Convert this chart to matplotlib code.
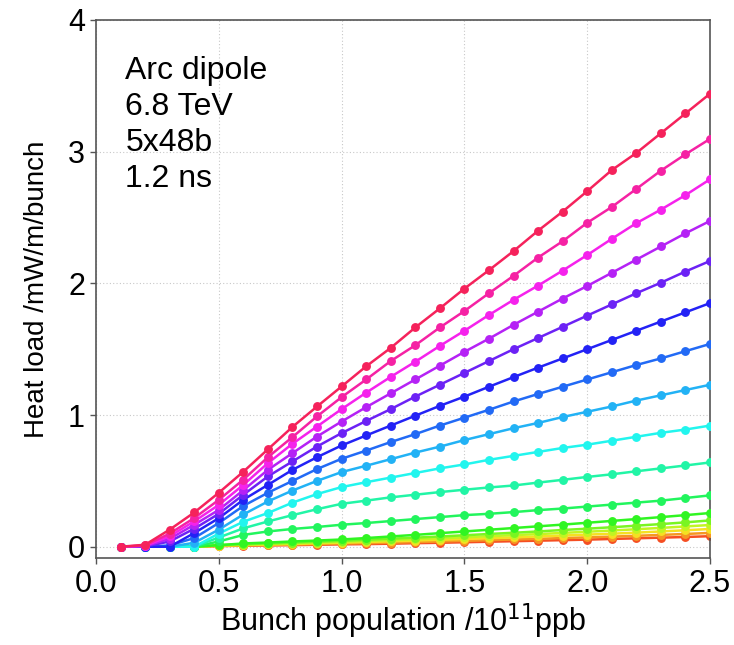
import colorsys

import matplotlib

matplotlib.use("Agg")

import matplotlib.pyplot as plt

plt.rcParams["font.family"] = ["Liberation Sans", "DejaVu Sans"]

# bunch population in 1e11 protons per bunch
intensity = [0.1, 0.2, 0.3, 0.4, 0.5, 0.6, 0.7, 0.8, 0.9, 1.0,
             1.1, 1.2, 1.3, 1.4, 1.5, 1.6, 1.7, 1.8, 1.9, 2.0,
             2.1, 2.2, 2.3, 2.4, 2.5]

# heat load per bunch [mW/m/bunch], one curve per SEY, lowest first
sey_values = [1.00, 1.05, 1.10, 1.15, 1.20, 1.25, 1.30, 1.35, 1.40,
              1.45, 1.50, 1.55, 1.60, 1.65, 1.70, 1.75, 1.80]

hl_sey_100 = [0.0, 0.0, 0.0, 0.0, 0.005, 0.008, 0.01, 0.012, 0.015, 0.018,
              0.02, 0.023, 0.027, 0.03, 0.034, 0.038, 0.042, 0.046, 0.05, 0.054,
              0.059, 0.064, 0.069, 0.074, 0.08]
hl_sey_105 = [0.0, 0.0, 0.0, 0.0, 0.006, 0.01, 0.013, 0.016, 0.02, 0.024,
              0.027, 0.031, 0.035, 0.04, 0.045, 0.05, 0.055, 0.06, 0.066, 0.071,
              0.077, 0.083, 0.09, 0.097, 0.105]
hl_sey_110 = [0.0, 0.0, 0.0, 0.0, 0.008, 0.013, 0.017, 0.021, 0.026, 0.031,
              0.036, 0.041, 0.047, 0.053, 0.059, 0.065, 0.071, 0.078, 0.085, 0.092,
              0.099, 0.107, 0.116, 0.125, 0.135]
hl_sey_115 = [0.0, 0.0, 0.0, 0.0, 0.01, 0.016, 0.021, 0.026, 0.032, 0.038,
              0.044, 0.05, 0.057, 0.064, 0.072, 0.08, 0.088, 0.096, 0.105, 0.114,
              0.123, 0.133, 0.143, 0.154, 0.165]
hl_sey_120 = [0.0, 0.0, 0.0, 0.0, 0.012, 0.019, 0.025, 0.031, 0.038, 0.045,
              0.053, 0.061, 0.069, 0.078, 0.087, 0.097, 0.106, 0.116, 0.127, 0.137,
              0.148, 0.16, 0.172, 0.185, 0.2]
hl_sey_125 = [0.0, 0.0, 0.0, 0.0, 0.012, 0.025, 0.032, 0.04, 0.047, 0.055,
              0.066, 0.078, 0.09, 0.103, 0.116, 0.129, 0.142, 0.155, 0.168, 0.182,
              0.196, 0.21, 0.225, 0.24, 0.256]
hl_sey_130 = [0.0, 0.0, 0.0, 0.0, 0.04, 0.09, 0.116, 0.135, 0.15, 0.167,
              0.18, 0.195, 0.21, 0.225, 0.24, 0.25, 0.263, 0.278, 0.29, 0.305,
              0.32, 0.335, 0.35, 0.37, 0.39]
hl_sey_135 = [0.0, 0.0, 0.0, 0.0, 0.07, 0.14, 0.192, 0.24, 0.285, 0.326,
              0.35, 0.375, 0.395, 0.415, 0.433, 0.45, 0.465, 0.487, 0.508, 0.53,
              0.55, 0.573, 0.595, 0.617, 0.64]
hl_sey_140 = [0.0, 0.0, 0.0, 0.0, 0.10, 0.19, 0.256, 0.335, 0.40, 0.453,
              0.49, 0.525, 0.56, 0.595, 0.625, 0.66, 0.69, 0.72, 0.75, 0.775,
              0.805, 0.835, 0.865, 0.89, 0.92]
hl_sey_145 = [0.0, 0.0, 0.0, 0.03, 0.13, 0.245, 0.344, 0.427, 0.50, 0.567,
              0.615, 0.665, 0.715, 0.76, 0.81, 0.855, 0.90, 0.94, 0.985, 1.025,
              1.065, 1.11, 1.15, 1.19, 1.23]
hl_sey_150 = [0.0, 0.0, 0.01, 0.066, 0.18, 0.31, 0.41, 0.50, 0.59, 0.668,
              0.73, 0.795, 0.855, 0.92, 0.98, 1.04, 1.103, 1.16, 1.215, 1.27,
              1.325, 1.38, 1.43, 1.485, 1.54]
hl_sey_155 = [0.0, 0.0, 0.0, 0.104, 0.217, 0.357, 0.47, 0.584, 0.68, 0.769,
              0.845, 0.92, 0.995, 1.07, 1.14, 1.215, 1.288, 1.36, 1.43, 1.50,
              1.57, 1.64, 1.71, 1.78, 1.85]
hl_sey_160 = [0.0, 0.002, 0.04, 0.137, 0.25, 0.395, 0.534, 0.648, 0.761, 0.863,
              0.955, 1.045, 1.14, 1.23, 1.32, 1.41, 1.50, 1.585, 1.67, 1.755,
              1.84, 1.925, 2.005, 2.09, 2.17]
hl_sey_165 = [0.0, 0.005, 0.06, 0.167, 0.28, 0.43, 0.584, 0.711, 0.837, 0.951,
              1.06, 1.165, 1.27, 1.375, 1.48, 1.58, 1.685, 1.785, 1.885, 1.98,
              2.08, 2.18, 2.28, 2.38, 2.474]
hl_sey_170 = [0.0, 0.008, 0.08, 0.193, 0.318, 0.47, 0.635, 0.782, 0.913, 1.045,
              1.17, 1.29, 1.405, 1.525, 1.64, 1.76, 1.875, 1.983, 2.097, 2.215,
              2.338, 2.457, 2.56, 2.67, 2.79]
hl_sey_175 = [0.0, 0.01, 0.10, 0.218, 0.356, 0.51, 0.68, 0.833, 0.99, 1.136,
              1.27, 1.41, 1.53, 1.665, 1.79, 1.925, 2.057, 2.196, 2.32, 2.46,
              2.58, 2.717, 2.856, 2.98, 3.097]
hl_sey_180 = [0.0, 0.015, 0.13, 0.26, 0.41, 0.57, 0.74, 0.91, 1.065, 1.217,
              1.37, 1.51, 1.665, 1.81, 1.96, 2.10, 2.245, 2.40, 2.545, 2.70,
              2.86, 2.99, 3.14, 3.29, 3.44]

heat_loads = [hl_sey_100, hl_sey_105, hl_sey_110, hl_sey_115, hl_sey_120,
              hl_sey_125, hl_sey_130, hl_sey_135, hl_sey_140, hl_sey_145,
              hl_sey_150, hl_sey_155, hl_sey_160, hl_sey_165, hl_sey_170,
              hl_sey_175, hl_sey_180]

info_text = "Arc dipole\n6.8 TeV\n5x48b\n1.2 ns"

fig = plt.figure(figsize=(7.34, 6.45), dpi=100)
ax = fig.add_axes([0.1308, 0.135, 0.8365, 0.834])

n = len(heat_loads)
for i, hl in enumerate(heat_loads):
    # rainbow from orange-red (low SEY) round to crimson (high SEY)
    hue = 0.035 + 0.92 * i / (n - 1)
    col = colorsys.hsv_to_rgb(hue, 0.86, 0.96)
    ax.plot(intensity, hl, "o-", color=col, linewidth=1.8, markersize=6.4,
            markeredgewidth=0, zorder=2 + i)

ax.set_xlim(0, 2.5)
ax.set_ylim(-0.085, 4)
ax.set_xticks([0, 0.5, 1.0, 1.5, 2.0, 2.5])
ax.set_xticklabels(["0.0", "0.5", "1.0", "1.5", "2.0", "2.5"])
ax.set_yticks([0, 1, 2, 3, 4])
ax.grid(True, color="#c8c8c8", linestyle=(0, (1, 2)), linewidth=0.8)
ax.set_axisbelow(True)
for s in ax.spines.values():
    s.set_color("#555555")
    s.set_linewidth(1.2)
ax.tick_params(direction="out", length=4, width=1, color="#555555",
               labelsize=22, pad=4)

ax.set_xlabel(r"Bunch population /10$^{11}$ppb", fontsize=22, labelpad=2)
ax.set_ylabel("Heat load /mW/m/bunch", fontsize=20, labelpad=13)
ax.text(0.12, 3.73, info_text, fontsize=23, va="top", ha="left",
        linespacing=1.27)

fig.savefig("out.png", dpi=100)
